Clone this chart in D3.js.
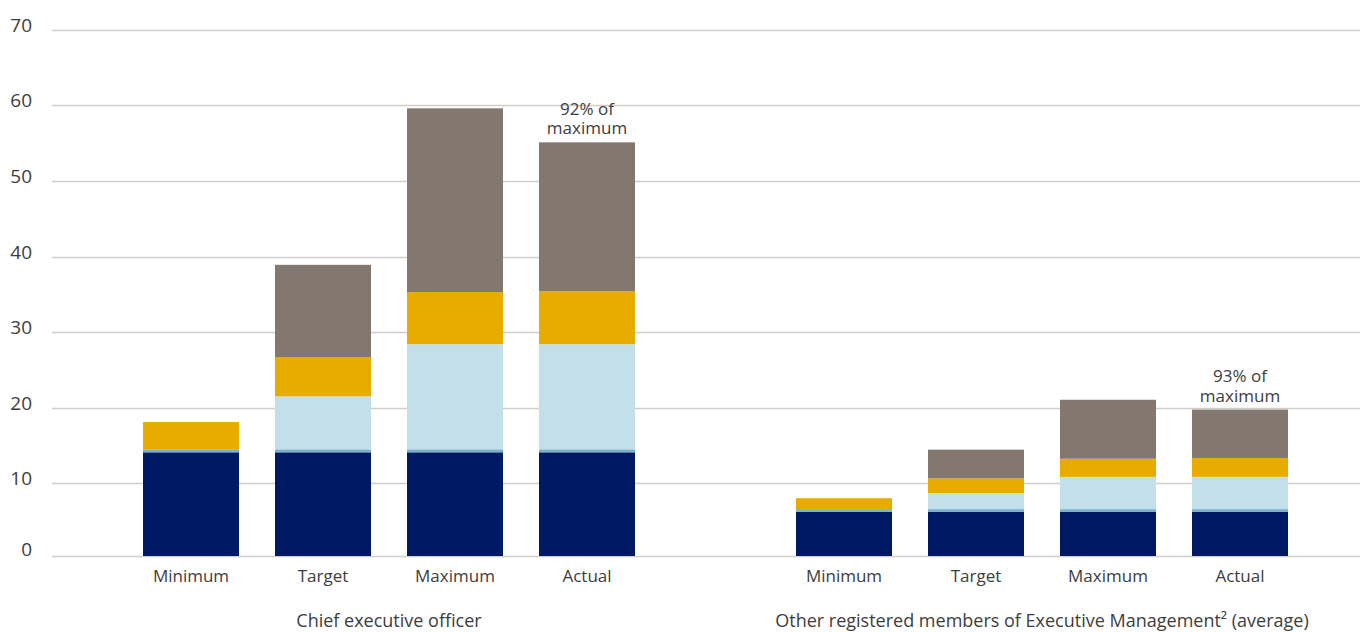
<!DOCTYPE html>
<html>
<head>
<meta charset="utf-8">
<script src="https://cdn.jsdelivr.net/npm/d3@7"></script>
<style>
  html, body { margin: 0; padding: 0; background: #ffffff; }
  svg { display: block; font-family: "Open Sans", "Noto Sans", sans-serif; }
</style>
</head>
<body>
<svg id="chart" width="1360" height="632"></svg>
<script>
// ---- data ----
const groups = ["Chief executive officer", "Other registered members of Executive Management² (average)"];
const categories = ["Minimum", "Target", "Maximum", "Actual"];
const seriesKeys = ["s1", "s2", "s3", "s4", "s5"];
const yTicks = [0, 10, 20, 30, 40, 50, 60, 70];

// Chief executive officer
const ceoS1 = [14.1, 14.1, 14.1, 14.1];
const ceoS2 = [0.4, 0.4, 0.4, 0.4];
const ceoS3 = [0, 7.0, 13.9, 13.9];
const ceoS4 = [3.6, 5.2, 6.9, 7.0];
const ceoS5 = [0, 12.2, 24.3, 19.7];

// Other registered members of Executive Management (average)
const othS1 = [6.1, 6.1, 6.1, 6.1];
const othS2 = [0.35, 0.35, 0.35, 0.35];
const othS3 = [0, 2.2, 4.4, 4.4];
const othS4 = [1.5, 2.0, 2.4, 2.5];
const othS5 = [0, 3.8, 7.8, 6.4];

const annotationGroups = [0, 1];
const annotationCategory = "Actual";
const annotationLines = [["92% of", "maximum"], ["93% of", "maximum"]];

// ---- styles ----
const colors = { s1: "#001965", s2: "#7ab2cc", s3: "#c2dfea", s4: "#e8ab00", s5: "#82786f" };
const textColor = "#3d3d3d";
const gridColor = "#d2cdc7";

// ---- build rows ----
const groupSeries = [
  [ceoS1, ceoS2, ceoS3, ceoS4, ceoS5],
  [othS1, othS2, othS3, othS4, othS5]
];
const rows = [];
groups.forEach((g, gi) => {
  categories.forEach((c, ci) => {
    const r = { group: g, category: c };
    seriesKeys.forEach((k, si) => { r[k] = groupSeries[gi][si][ci]; });
    rows.push(r);
  });
});

const svg = d3.select("#chart");
const W = 1360;

const y = d3.scaleLinear().domain([0, 10, 70]).range([556, 483.3, 29.7]);

const x0 = d3.scaleBand().domain(groups).range([125, 1306]).paddingInner(0.1914).paddingOuter(0);
const x1 = d3.scaleBand().domain(categories).range([0, x0.bandwidth()]).paddingInner(0.2727).paddingOuter(0.1364);

// gridlines
svg.append("g").selectAll("line").data(yTicks).join("line")
  .attr("x1", 52).attr("x2", W)
  .attr("y1", d => Math.round(y(d)) + 0.5).attr("y2", d => Math.round(y(d)) + 0.5)
  .attr("stroke", gridColor).attr("stroke-width", 1.3);

// y labels
svg.append("g").selectAll("text").data(yTicks).join("text")
  .attr("x", 32).attr("y", d => y(d) - (d === 0 ? 5 : 3))
  .attr("text-anchor", "end").attr("dominant-baseline", "middle")
  .attr("font-size", 19).attr("fill", textColor)
  .text(d => d);

// stacks
const stack = d3.stack().keys(seriesKeys);
const stacked = stack(rows);

svg.append("g").selectAll("g").data(stacked).join("g")
  .attr("fill", d => colors[d.key])
  .selectAll("rect").data(d => d.filter(p => p[1] - p[0] > 0)).join("rect")
  .attr("x", d => x0(d.data.group) + x1(d.data.category))
  .attr("width", x1.bandwidth())
  .attr("y", d => y(d[1]))
  .attr("height", d => y(d[0]) - y(d[1]));

// category labels
svg.append("g").selectAll("text").data(rows).join("text")
  .attr("x", d => x0(d.group) + x1(d.category) + x1.bandwidth() / 2)
  .attr("y", 582)
  .attr("text-anchor", "middle").attr("font-size", 17).attr("fill", textColor)
  .text(d => d.category);

// group labels
svg.append("g").selectAll("text").data(groups).join("text")
  .attr("x", d => x0(d) + x0.bandwidth() / 2)
  .attr("y", 627)
  .attr("text-anchor", "middle").attr("font-size", 18).attr("fill", textColor)
  .text(d => d);

// annotations
annotationGroups.forEach((gi, i) => {
  const r = rows.find(d => d.group === groups[gi] && d.category === annotationCategory);
  const total = d3.sum(seriesKeys, k => r[k]);
  const cx = x0(r.group) + x1(r.category) + x1.bandwidth() / 2;
  const t = svg.append("text").attr("text-anchor", "middle").attr("font-size", 17).attr("fill", textColor);
  const lines = annotationLines[i];
  lines.forEach((ln, li) => {
    t.append("tspan").attr("x", cx)
      .attr("y", y(total) - 8 - (lines.length - 1 - li) * 19.5)
      .text(ln);
  });
});
</script>
</body>
</html>
